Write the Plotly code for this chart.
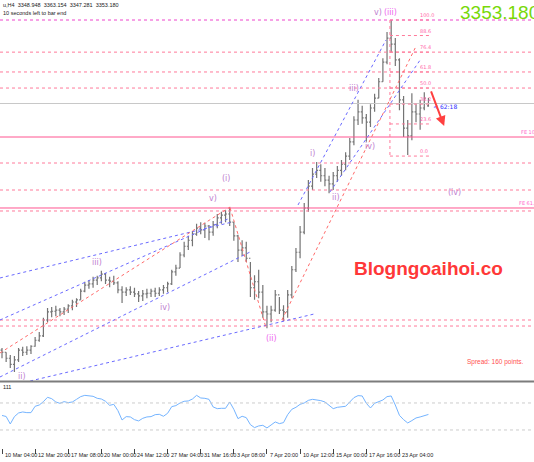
import plotly.graph_objects as go

# ---------------- data ----------------
bar_index = list(range(104))
highs = [2906, 2898, 2893, 2891, 2906, 2908, 2909, 2911, 2926, 2935,
         2961, 2979, 2981, 2983, 2979, 2981, 2986, 2994, 2997, 3014,
         3027, 3030, 3036, 3038, 3047, 3043, 3036, 3038, 3028, 3019,
         3017, 3019, 3016, 3010, 3012, 3014, 3014, 3016, 3017, 3021,
         3027, 3049, 3058, 3081, 3100, 3111, 3120, 3133, 3136, 3135,
         3131, 3138, 3151, 3155, 3158, 3164, 3136, 3113, 3103, 3100,
         3063, 3039, 3049, 3021, 2983, 2983, 3012, 2999, 2984, 3012,
         3056, 3089, 3129, 3171, 3213, 3235, 3246, 3242, 3235, 3221,
         3228, 3239, 3250, 3264, 3290, 3330, 3360, 3349, 3334, 3352,
         3371, 3400, 3436, 3484, 3506, 3473, 3436, 3367, 3323, 3372,
         3352, 3360, 3374, 3363.154]
lows = [2887, 2880, 2869, 2862, 2880, 2891, 2893, 2895, 2908, 2917,
        2926, 2953, 2962, 2964, 2964, 2966, 2970, 2975, 2981, 2994,
        3008, 3014, 3016, 3021, 3028, 3023, 3017, 3021, 3006, 2988,
        3001, 3003, 2999, 2990, 2992, 2997, 2999, 2999, 3001, 3005,
        3008, 3021, 3038, 3052, 3072, 3085, 3092, 3111, 3114, 3107,
        3103, 3111, 3125, 3133, 3136, 3129, 3102, 3063, 3074, 3063,
        2999, 2994, 2997, 2961, 2942, 2953, 2972, 2968, 2955, 2961,
        2997, 3045, 3070, 3114, 3155, 3195, 3217, 3210, 3202, 3189,
        3195, 3210, 3221, 3231, 3250, 3277, 3314, 3316, 3283, 3310,
        3338, 3363, 3393, 3425, 3447, 3422, 3341, 3292, 3259, 3286,
        3319, 3305, 3341, 3347.281]
closes = [2898, 2887, 2876, 2884, 2902, 2898, 2902, 2909, 2920, 2928,
          2957, 2972, 2973, 2975, 2972, 2977, 2983, 2990, 2994, 3010,
          3021, 3023, 3030, 3034, 3041, 3030, 3028, 3025, 3012, 3008,
          3012, 3008, 3005, 3001, 3005, 3006, 3010, 3006, 3012, 3016,
          3023, 3045, 3052, 3076, 3092, 3103, 3114, 3125, 3122, 3129,
          3118, 3131, 3144, 3149, 3151, 3136, 3111, 3085, 3089, 3070,
          3016, 3027, 3008, 2972, 2968, 2975, 3003, 2975, 2972, 3003,
          3049, 3081, 3118, 3162, 3202, 3224, 3231, 3221, 3213, 3206,
          3221, 3231, 3242, 3257, 3283, 3323, 3338, 3327, 3319, 3345,
          3363, 3393, 3429, 3473, 3462, 3433, 3360, 3308, 3294, 3338,
          3334, 3345, 3363, 3353.180]
first_open = 2902
last_open = 3348.948

rsi = [51.5, 50.0, 38.9, 49.8, 55.2, 56.7, 55.7, 55.7, 65.1, 67.0,
       72.0, 78.4, 76.4, 71.5, 69.5, 72.0, 70.5, 71.5, 75.4, 79.4,
       81.3, 80.9, 79.9, 76.9, 75.9, 72.5, 66.5, 68.0, 58.7, 44.8,
       49.8, 49.3, 45.3, 43.4, 47.3, 49.3, 49.8, 52.7, 53.2, 50.3,
       54.7, 64.6, 66.1, 70.0, 72.5, 73.0, 75.9, 81.3, 77.4, 76.9,
       75.4, 64.1, 61.6, 62.1, 62.1, 71.5, 60.6, 46.8, 50.3, 48.3,
       37.9, 33.5, 36.0, 36.9, 33.0, 37.4, 41.9, 39.4, 40.9, 52.7,
       60.6, 63.6, 68.0, 70.0, 73.9, 75.4, 74.9, 73.5, 71.5, 66.1,
       61.6, 63.6, 64.1, 65.1, 71.5, 77.9, 80.9, 80.4, 69.5, 62.6,
       69.5, 72.5, 74.4, 79.4, 80.4, 67.0, 51.7, 45.3, 40.4, 43.9,
       47.8, 49.3, 51.7, 53.0]
rsi_levels = [70, 30]

tick_bars = [0, 8, 16, 24, 32, 40, 48, 56, 64, 72, 80, 88, 96]
tick_labels = ["10 Mar 04:00", "12 Mar 20:00", "17 Mar 08:00", "20 Mar 00:00",
               "24 Mar 12:00", "27 Mar 04:00", "31 Mar 16:00", "3 Apr 08:00",
               "7 Apr 20:00", "10 Apr 12:00", "15 Apr 00:00", "17 Apr 16:00",
               "23 Apr 04:00"]

bid = 3353.180
# full-width horizontal levels
magenta_level = 3506
ray_levels = [3447.2, 3410.9, 3381.5, 3244.3, 3194.9, 3156.5, 2957, 2946]
fe_levels = [3291.9, 3162]
fe_labels = ["FE 100", "FE 61.8"]
# fibonacci retracement (short segments)
fib_levels = [3506, 3477.6, 3447.2, 3410.9, 3381.5, 3352.1, 3315.8, 3257]
fib_labels = ["100.0", "88.6", "76.4", "61.8", "50.0", "38.2", "23.6", "0.0"]
fib_start_bar, fib_end_bar = 93.7, 103.4

# trend / channel lines: (bar, price) endpoints
blue_lines = [((6.8, 2845.4), (75.4, 2968)),
              ((-0.5, 3033.9), (55.6, 3136.3)),
              ((-0.5, 2957), (55.1, 3143.7)),
              ((-0.5, 2852.7), (59.9, 3081.4)),
              ((71.5, 3167.5), (92.75, 3469.4)),
              ((79.2, 3191.2), (101, 3432.8))]
red_lines = [((-0.5, 2896.6), (55.1, 3163.8)),
             ((55.1, 3162), (63.8, 2942.4)),
             ((67.6, 2957), (99.8, 3454.8))]

wave_labels = [("ii)", 4.8, 2854), ("iii)", 23, 3063), ("iv)", 39.4, 2980),
               ("v)", 51, 3180), ("(i)", 54, 3216), ("i)", 75.1, 3262),
               ("ii)", 80.7, 3182), ("iii)", 85, 3381), ("iv)", 89, 3274),
               ("v)", 90.8, 3519), ("(iv)", 109.2, 3191)]
special_labels = [("(ii)", 65.2, 2924), ("(iii)", 93.8, 3519)]

# ---------------- figure ----------------
W, H = 534, 462
def px(x):
    return x / W
def py(y):
    return 1 - y / H

opens = [first_open] + closes[:-1]
opens[-1] = last_open

fig = go.Figure()
fig.add_trace(go.Ohlc(x=bar_index, open=opens, high=highs, low=lows, close=closes,
                      increasing=dict(line=dict(color="#747474", width=1.2)),
                      decreasing=dict(line=dict(color="#747474", width=1.2)),
                      tickwidth=0.35, xaxis="x", yaxis="y", hoverinfo="skip"))
fig.add_trace(go.Scatter(x=bar_index, y=rsi, mode="lines",
                         line=dict(color="#74b4ff", width=1), xaxis="x", yaxis="y2",
                         hoverinfo="skip"))

shapes = []
pink_dot = dict(color="#ff7a9a", width=1, dash="dot")
shapes.append(dict(type="line", xref="paper", yref="y", x0=0, x1=1, y0=magenta_level, y1=magenta_level,
                   line=dict(color="#ee44cc", width=1, dash="dot")))
for lv in ray_levels:
    shapes.append(dict(type="line", xref="paper", yref="y", x0=0, x1=1, y0=lv, y1=lv, line=pink_dot))
for lv in fe_levels:
    shapes.append(dict(type="line", xref="paper", yref="y", x0=0, x1=1, y0=lv, y1=lv,
                       line=dict(color="#ff5590", width=1)))
shapes.append(dict(type="line", xref="paper", yref="y", x0=0, x1=1, y0=bid, y1=bid,
                   line=dict(color="#c8c8c8", width=1)))
for lv in fib_levels:
    shapes.append(dict(type="line", xref="x", yref="y", x0=fib_start_bar, x1=fib_end_bar, y0=lv, y1=lv,
                       line=pink_dot))
shapes.append(dict(type="line", xref="x", yref="y", x0=fib_start_bar, x1=fib_start_bar,
                   y0=fib_levels[0], y1=fib_levels[-1], line=pink_dot))
for (a, b) in blue_lines:
    shapes.append(dict(type="line", xref="x", yref="y", x0=a[0], y0=a[1], x1=b[0], y1=b[1],
                       line=dict(color="#6a6aff", width=1, dash="dot")))
for (a, b) in red_lines:
    shapes.append(dict(type="line", xref="x", yref="y", x0=a[0], y0=a[1], x1=b[0], y1=b[1],
                       line=dict(color="#ff6a6a", width=1, dash="dot")))
for lv in rsi_levels:
    shapes.append(dict(type="line", xref="paper", yref="y2", x0=0, x1=1, y0=lv, y1=lv,
                       line=dict(color="#cccccc", width=1, dash="dot")))
shapes.append(dict(type="line", xref="paper", yref="paper", x0=0, x1=1, y0=py(381.5), y1=py(381.5),
                   line=dict(color="#7c7c7c", width=2)))

ann = []
for t, k in zip(tick_labels, tick_bars):
    ann.append(dict(x=k, xref="x", y=py(455), yref="paper", text=t, showarrow=False,
                    xanchor="left", yanchor="middle", xshift=1,
                    font=dict(family="Liberation Sans", size=5.5, color="#222222")))
for t, lv in zip(fib_labels, fib_levels):
    ann.append(dict(x=100.5, xref="x", y=lv, yref="y", text=t, showarrow=False,
                    xanchor="left", yanchor="bottom", font=dict(family="DejaVu Sans", size=5, color="#ff66aa")))
for t, lv in zip(fe_labels, fe_levels):
    ann.append(dict(x=1, xref="paper", y=lv, yref="y", text=t, showarrow=False,
                    xanchor="right", yanchor="bottom", xshift=6,
                    font=dict(family="DejaVu Sans", size=5, color="#ff66cc")))
for t, k, p in wave_labels:
    ann.append(dict(x=k, xref="x", y=p, yref="y", text=t, showarrow=False,
                    font=dict(family="DejaVu Sans", size=8, color="#c080d0")))
for t, k, p in special_labels:
    ann.append(dict(x=k, xref="x", y=p, yref="y", text=t, showarrow=False,
                    font=dict(family="DejaVu Sans", size=8, color="#ee66ee")))

ann.append(dict(x=px(458), y=py(13), xref="paper", yref="paper", text="3353.180", showarrow=False,
                xanchor="left", yanchor="middle",
                font=dict(family="Liberation Sans", size=19, color="#78d808")))
ann.append(dict(x=px(352), y=py(268), xref="paper", yref="paper", text="<b>Blogngoaihoi.co</b>",
                showarrow=False, xanchor="left", yanchor="middle",
                font=dict(family="Liberation Sans", size=19, color="#ff3838")))
ann.append(dict(x=px(465), y=py(362), xref="paper", yref="paper", text="Spread: 160 points.",
                showarrow=False, xanchor="left", yanchor="middle",
                font=dict(family="Liberation Sans", size=6.5, color="#ff5050")))
ann.append(dict(x=px(1), y=py(5), xref="paper", yref="paper",
                text="u,H4  3348.948  3363.154  3347.281  3353.180", showarrow=False,
                xanchor="left", yanchor="middle", font=dict(family="Liberation Sans", size=5.5, color="#222222")))
ann.append(dict(x=px(1), y=py(13), xref="paper", yref="paper",
                text="10 seconds left to bar end", showarrow=False,
                xanchor="left", yanchor="middle", font=dict(family="Liberation Sans", size=5.5, color="#222222")))
ann.append(dict(x=px(1), y=py(387), xref="paper", yref="paper", text="111", showarrow=False,
                xanchor="left", yanchor="middle", font=dict(family="Liberation Sans", size=5.5, color="#222222")))
ann.append(dict(x=103.6, xref="x", y=bid, yref="y", text="&lt; 62:18", showarrow=False,
                xanchor="left", yanchor="middle", yshift=-3,
                font=dict(family="DejaVu Sans", size=6, color="#3030ff")))
ann.append(dict(x=106.8, y=3312, xref="x", yref="y", ax=103.5, ay=3378, axref="x", ayref="y",
                text="", showarrow=True, arrowhead=2, arrowsize=1, arrowwidth=2, arrowcolor="#ff4040"))

fig.update_layout(
    width=W, height=H, margin=dict(l=0, r=0, t=0, b=0),
    paper_bgcolor="white", plot_bgcolor="white", showlegend=False,
    xaxis=dict(range=[-0.483, 128.5], domain=[0, 1], anchor="y2", showgrid=False, zeroline=False,
               showticklabels=False, ticks="outside", ticklen=5, tickcolor="#444444",
               tickvals=tick_bars, rangeslider=dict(visible=False), fixedrange=True),
    yaxis=dict(range=[2845.4, 3542.6], domain=[(H - 381) / H, 1], showgrid=False, zeroline=False,
               showticklabels=False, fixedrange=True),
    yaxis2=dict(range=[3.3, 99.6], domain=[(H - 448) / H, (H - 383) / H], showgrid=False,
                zeroline=False, showticklabels=False, fixedrange=True),
    shapes=shapes, annotations=ann,
)
fig.write_html("out.html", config={"displayModeBar": False},
               post_script="document.body.style.margin='0';document.body.style.overflow='hidden';")
